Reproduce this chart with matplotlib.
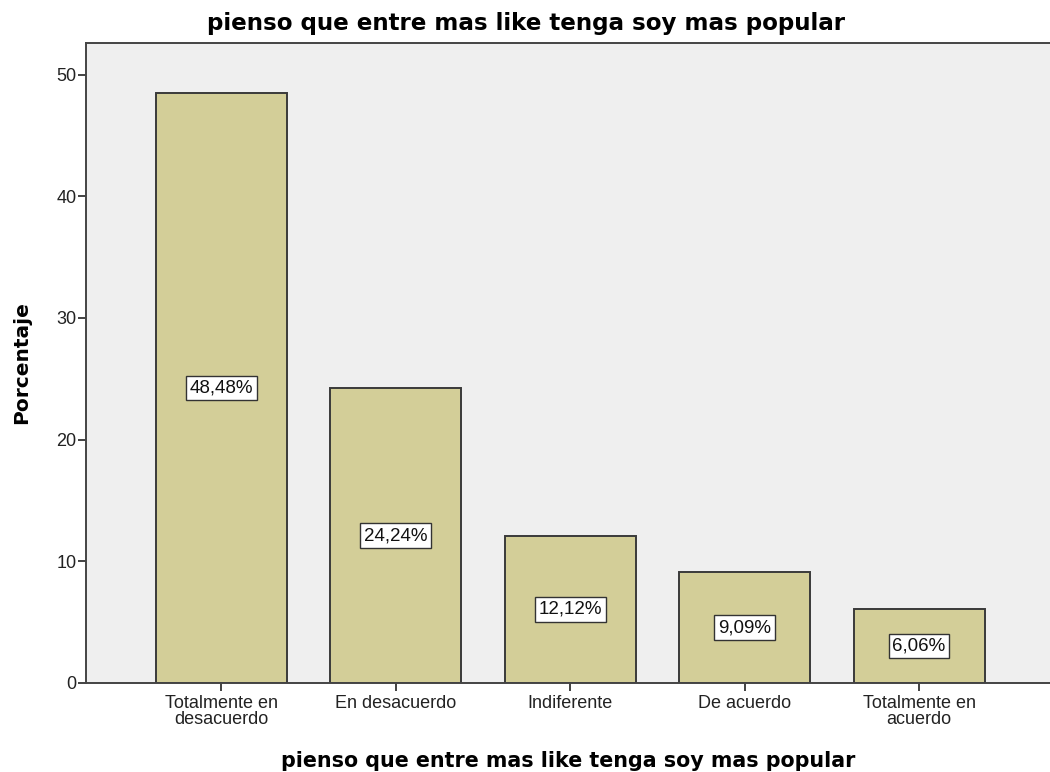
import matplotlib.pyplot as plt

# Data
categories = ['Totalmente en\ndesacuerdo', 'En desacuerdo', 'Indiferente',
              'De acuerdo', 'Totalmente en\nacuerdo']
percentages = [48.48, 24.24, 12.12, 9.09, 6.06]
bar_labels = ['48,48%', '24,24%', '12,12%', '9,09%', '6,06%']
title = 'pienso que entre mas like tenga soy mas popular'

fig = plt.figure(figsize=(10.5, 7.72), dpi=100)
ax = fig.add_axes([0.0819, 0.1153, 0.9181, 0.8290])
ax.set_facecolor('#EFEFEF')

x = range(len(categories))
ax.bar(x, percentages, width=0.75, color='#D3CE98', edgecolor='#3A3A3A',
       linewidth=1.4, zorder=2)

# Value labels in boxes at half bar height
for i, (v, lab) in enumerate(zip(percentages, bar_labels)):
    ax.text(i, v / 2, lab, ha='center', va='center', fontsize=13.5,
            family='Liberation Sans', color='#111111',
            bbox=dict(boxstyle='square,pad=0.2', facecolor='white',
                      edgecolor='#333333', linewidth=1.0), zorder=3)

ax.set_xlim(-0.774, 4.75)
ax.set_ylim(0, 52.6)
ax.set_yticks([0, 10, 20, 30, 40, 50])
ax.set_xticks(list(x))
ax.set_xticklabels(categories, family='Liberation Sans', fontsize=13,
                   linespacing=0.85)
for lbl in ax.get_yticklabels():
    lbl.set_family('Liberation Sans')
    lbl.set_fontsize(13)

ax.tick_params(axis='both', direction='out', length=6, width=1.3,
               color='#333333', labelcolor='#222222')
ax.tick_params(axis='x', pad=3)
ax.tick_params(axis='y', pad=1)

for side in ['left', 'bottom', 'top']:
    ax.spines[side].set_color('#444444')
    ax.spines[side].set_linewidth(1.4)
ax.spines['right'].set_visible(False)

# Title centred on the figure, x label centred under the plot area
fig.text(0.5005, 0.961, title, ha='center', va='baseline',
         fontsize=16.6, fontweight='bold')
fig.text(0.541, 0.0065, title, ha='center', va='baseline',
         fontsize=14.9, fontweight='bold')
ax.set_ylabel('Porcentaje', fontsize=14.5, fontweight='bold', labelpad=18)

fig.savefig('out.png', dpi=100)
